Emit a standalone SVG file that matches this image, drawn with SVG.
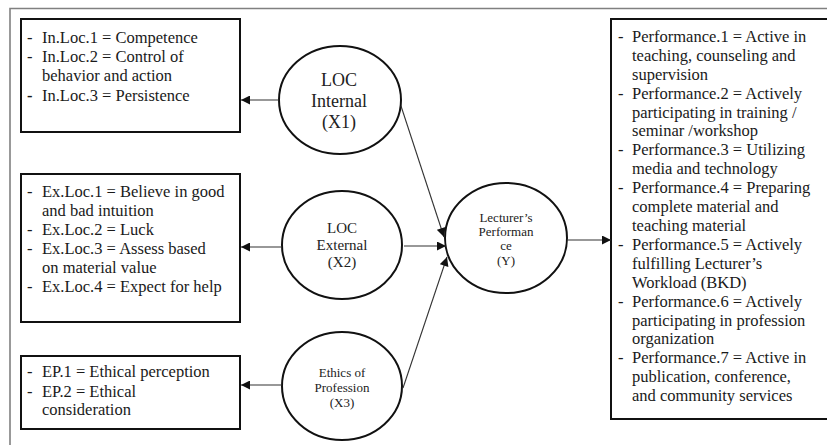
<svg xmlns="http://www.w3.org/2000/svg" width="827" height="445" viewBox="0 0 827 445">
<defs>
<style>
.box{fill:#fff;stroke:#111;stroke-width:2}
.node{fill:#fff;stroke:#111;stroke-width:2}
.t{font-family:'Liberation Serif','DejaVu Serif',serif;font-size:16.5px;fill:#1a1a1a}
.c{font-family:'Liberation Serif','DejaVu Serif',serif;fill:#222;text-anchor:middle}
.con{stroke:#333;stroke-width:1.1;fill:none}
.frame{stroke:#808080;stroke-width:1.6;fill:none}
</style>
<marker id="ah" viewBox="0 0 10 10" refX="10" refY="5" markerWidth="10" markerHeight="9" markerUnits="userSpaceOnUse" orient="auto">
<path d="M0,0 L10,5 L0,10 z" fill="#111"/>
</marker>
</defs>
<rect width="827" height="445" fill="#fff"/>
<path class="frame" d="M10,445 V8.5 H827"/>

<g id="box-internal">
<rect class="box" x="21" y="19" width="219" height="113"/>
<text class="t" font-family="Liberation Serif, DejaVu Serif, serif"><tspan x="27" y="43">-</tspan><tspan x="42" y="43">In.Loc.1 = Competence</tspan><tspan x="27" y="62">-</tspan><tspan x="42" y="62">In.Loc.2 = Control of</tspan><tspan x="42" y="81">behavior and action</tspan><tspan x="27" y="101" font-weight="bold">-</tspan><tspan x="42" y="101">In.Loc.3 = Persistence</tspan></text>
</g>

<g id="box-external">
<rect class="box" x="21" y="174" width="219" height="148"/>
<text class="t" font-family="Liberation Serif, DejaVu Serif, serif"><tspan x="27" y="197">-</tspan><tspan x="42" y="197">Ex.Loc.1 = Believe in good</tspan><tspan x="42" y="216">and bad intuition</tspan><tspan x="27" y="235">-</tspan><tspan x="42" y="235">Ex.Loc.2 = Luck</tspan><tspan x="27" y="254">-</tspan><tspan x="42" y="254">Ex.Loc.3 = Assess based</tspan><tspan x="42" y="273">on material value</tspan><tspan x="27" y="292">-</tspan><tspan x="42" y="292">Ex.Loc.4 = Expect for help</tspan></text>
</g>

<g id="box-ethics">
<rect class="box" x="21" y="356" width="219" height="73"/>
<text class="t" font-family="Liberation Serif, DejaVu Serif, serif"><tspan x="27" y="377">-</tspan><tspan x="42" y="377">EP.1 = Ethical perception</tspan><tspan x="27" y="397">-</tspan><tspan x="42" y="397">EP.2 = Ethical</tspan><tspan x="42" y="415">consideration</tspan></text>
</g>

<g id="box-performance">
<rect class="box" x="611" y="19" width="240" height="400"/>
<text class="t" font-family="Liberation Serif, DejaVu Serif, serif"><tspan x="618" y="42">-</tspan><tspan x="632" y="42">Performance.1 = Active in</tspan><tspan x="632" y="61">teaching, counseling and</tspan><tspan x="632" y="80">supervision</tspan><tspan x="618" y="99">-</tspan><tspan x="632" y="99">Performance.2 = Actively</tspan><tspan x="632" y="118">participating in training /</tspan><tspan x="632" y="136">seminar /workshop</tspan><tspan x="618" y="155">-</tspan><tspan x="632" y="155">Performance.3 = Utilizing</tspan><tspan x="632" y="174">media and technology</tspan><tspan x="618" y="193">-</tspan><tspan x="632" y="193">Performance.4 = Preparing</tspan><tspan x="632" y="212">complete material and</tspan><tspan x="632" y="231">teaching material</tspan><tspan x="618" y="250">-</tspan><tspan x="632" y="250">Performance.5 = Actively</tspan><tspan x="632" y="269">fulfilling Lecturer’s</tspan><tspan x="632" y="288">Workload (BKD)</tspan><tspan x="618" y="307">-</tspan><tspan x="632" y="307">Performance.6 = Actively</tspan><tspan x="632" y="326">participating in profession</tspan><tspan x="632" y="344">organization</tspan><tspan x="618" y="363">-</tspan><tspan x="632" y="363">Performance.7 = Active in</tspan><tspan x="632" y="382">publication, conference,</tspan><tspan x="632" y="401">and community services</tspan></text>
</g>

<g id="node-x1">
<ellipse class="node" cx="340" cy="100" rx="61" ry="54"/>
<text class="c" font-family="Liberation Serif, DejaVu Serif, serif" font-size="18"><tspan x="339" y="86">LOC</tspan><tspan x="339" y="107">Internal</tspan><tspan x="339" y="128">(X1)</tspan></text>
</g>

<g id="node-x2">
<ellipse class="node" cx="342" cy="245" rx="60" ry="54"/>
<text class="c" font-family="Liberation Serif, DejaVu Serif, serif" font-size="15"><tspan x="342" y="233">LOC</tspan><tspan x="342" y="250">External</tspan><tspan x="342" y="267">(X2)</tspan></text>
</g>

<g id="node-x3">
<ellipse class="node" cx="342" cy="386" rx="60" ry="54"/>
<text class="c" font-family="Liberation Serif, DejaVu Serif, serif" font-size="13"><tspan x="342" y="377">Ethics of</tspan><tspan x="342" y="392">Profession</tspan><tspan x="342" y="407">(X3)</tspan></text>
</g>

<g id="node-y">
<ellipse class="node" cx="506" cy="238" rx="61" ry="55"/>
<text class="c" font-family="Liberation Serif, DejaVu Serif, serif" font-size="13"><tspan x="506" y="222">Lecturer’s</tspan><tspan x="506" y="236">Performan</tspan><tspan x="506" y="250">ce</tspan><tspan x="506" y="265">(Y)</tspan></text>
</g>

<g id="connectors">
<line class="con" x1="279" y1="100" x2="241" y2="100" marker-end="url(#ah)"/>
<line class="con" x1="282" y1="247" x2="241" y2="247" marker-end="url(#ah)"/>
<line class="con" x1="282" y1="385" x2="241" y2="385" marker-end="url(#ah)"/>
<line class="con" x1="401" y1="106" x2="444" y2="237" marker-end="url(#ah)"/>
<line class="con" x1="404" y1="246" x2="446" y2="246" marker-end="url(#ah)"/>
<line class="con" x1="403" y1="388" x2="447" y2="257" marker-end="url(#ah)"/>
<line class="con" x1="567" y1="240" x2="611" y2="240" marker-end="url(#ah)"/>
</g>
</svg>
